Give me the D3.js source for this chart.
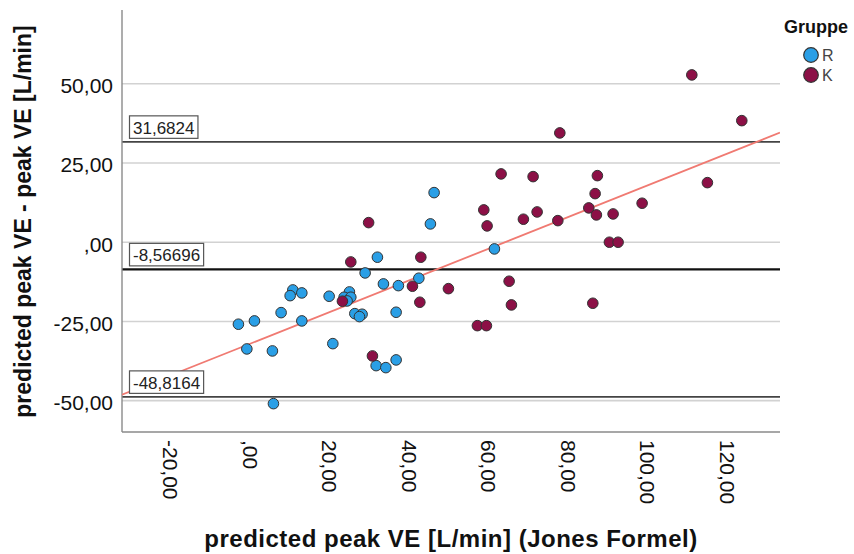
<!DOCTYPE html>
<html><head><meta charset="utf-8">
<script src="https://cdn.jsdelivr.net/npm/d3@7"></script>
<style>
body{margin:0;background:#fff;}
svg{display:block;font-family:"Liberation Sans",Arial,sans-serif;}
</style></head>
<body>
<svg id="chart" width="854" height="554"></svg>
<script>
// ---- data ----
const groups = ["R", "K"];
const groupColors = ["#2a9fe6", "#8c1046"];
// Gruppe R
const rX = [45.47, 46.40, 29.05, 10.87, 10.19, 13.13, 20.00, 25.10, 23.77, 25.45, 24.52, 26.46, 28.29, 27.62,
            -2.82, 1.21, 7.92, 13.13, -0.70, 5.73, 20.93, 5.99, 61.57, 32.14, 33.65, 37.42, 42.56, 36.85,
            31.82, 34.26, 36.85];
const rY = [5.78, 15.66, -9.69, -15.06, -16.86, -16.00, -17.05, -15.69, -17.36, -17.36, -18.53, -22.54, -22.73, -23.48,
            -25.88, -24.84, -22.22, -24.84, -33.68, -34.31, -32.01, -50.95, -2.11, -4.73, -13.16, -13.70, -11.36, -22.10,
            -38.95, -39.58, -37.15];
// Gruppe K
const kX = [29.93, 25.45, 23.34, 30.89, 58.90, 59.73, 68.86, 72.31, 77.52, 85.31, 87.22, 91.42, 90.49, 92.68,
            43.06, 40.95, 50.00, 65.27, 42.81, 65.85, 86.32, 57.29, 59.56, 98.72, 78.02, 63.25, 71.30, 87.47,
            86.90, 111.22, 123.79, 115.14];
const kY = [6.19, -6.22, -18.62, -35.89, 10.20, 5.15, 7.26, 9.56, 6.82, 10.83, 8.62, 8.93, 0.00, 0.00,
            -4.73, -13.89, -14.65, -12.31, -18.94, -19.79, -19.26, -26.33, -26.33, 12.31, 34.50, 21.56, 20.71, 21.02,
            15.34, 52.81, 38.38, 18.81];
// Bland-Altman reference lines (upper LoA, mean, lower LoA)
const refValues = [31.6824, -8.56696, -48.8164];
const refLabels = ["31,6824", "-8,56696", "-48,8164"];
// fit line
const fitIntercept = -32.1;
const fitSlope = 0.500;
// axes
const xDomain = [-32.1, 133.4];
const yDomain = [-59.9, 73.3];
const xTicks = [-20, 0, 20, 40, 60, 80, 100, 120];
const xTickLabels = ["-20,00", ",00", "20,00", "40,00", "60,00", "80,00", "100,00", "120,00"];
const yTicks = [-50, -25, 0, 25, 50];
const yTickLabels = ["-50,00", "-25,00", ",00", "25,00", "50,00"];
const xTitle = "predicted peak VE [L/min] (Jones Formel)";
const yTitle = "predicted peak VE - peak VE [L/min]";
const legendTitle = "Gruppe";

// ---- layout ----
const svg = d3.select("#chart");
const L = 122, R = 780, T = 10, B = 432;
const x = d3.scaleLinear().domain(xDomain).range([L, R]);
const y = d3.scaleLinear().domain(yDomain).range([B, T]);

svg.append("defs").append("clipPath").attr("id", "clip")
  .append("rect").attr("x", L).attr("y", T).attr("width", R - L).attr("height", B - T);

// gridlines
svg.append("g").selectAll("line").data(yTicks).join("line")
  .attr("x1", L).attr("x2", R)
  .attr("y1", d => y(d)).attr("y2", d => y(d))
  .attr("stroke", "#d2d2d2").attr("stroke-width", 1.6);

// reference lines
svg.append("g").selectAll("line").data(refValues).join("line")
  .attr("x1", L).attr("x2", R)
  .attr("y1", d => y(d)).attr("y2", d => y(d))
  .attr("stroke", (d, i) => i === 1 ? "#111" : "#444")
  .attr("stroke-width", (d, i) => i === 1 ? 2.2 : 1.8);

// axes
const yAxis = svg.append("g").attr("transform", `translate(${L},0)`)
  .call(d3.axisLeft(y).tickValues(yTicks).tickSize(0).tickPadding(9)
    .tickFormat((d, i) => yTickLabels[i]));
yAxis.select(".domain").attr("stroke", "#8a8a8a").attr("stroke-width", 1.4)
  .attr("d", `M0,${T}V${B}`);
yAxis.selectAll("text").attr("font-size", 21).attr("fill", "#111")
  .attr("font-family", "Liberation Sans, Arial, sans-serif").attr("dy", "0.42em");

const xAxis = svg.append("g").attr("transform", `translate(0,${B})`)
  .call(d3.axisBottom(x).tickValues(xTicks).tickSize(0)
    .tickFormat((d, i) => xTickLabels[i]));
xAxis.select(".domain").attr("stroke", "#8a8a8a").attr("stroke-width", 1.4)
  .attr("d", `M${L},0H${R}`);
xAxis.selectAll("text")
  .attr("font-size", 21).attr("fill", "#111")
  .attr("font-family", "Liberation Sans, Arial, sans-serif")
  .attr("text-anchor", "start")
  .attr("transform", "rotate(90)")
  .attr("x", 8).attr("y", 0).attr("dy", "0.35em");

// fit line
svg.append("line").attr("clip-path", "url(#clip)")
  .attr("x1", x(xDomain[0])).attr("y1", y(fitIntercept + fitSlope * xDomain[0]))
  .attr("x2", x(xDomain[1])).attr("y2", y(fitIntercept + fitSlope * xDomain[1]))
  .attr("stroke", "#f07a72").attr("stroke-width", 1.8);

// points
const pts = [];
rX.forEach((v, i) => pts.push({x: v, y: rY[i], g: 0}));
kX.forEach((v, i) => pts.push({x: v, y: kY[i], g: 1}));
svg.append("g").selectAll("circle").data(pts).join("circle")
  .attr("cx", d => x(d.x)).attr("cy", d => y(d.y)).attr("r", 5.3)
  .attr("fill", d => groupColors[d.g]).attr("stroke", "#333").attr("stroke-width", 1);

// reference labels
refValues.forEach((v, i) => {
  const g = svg.append("g");
  const t = g.append("text").attr("x", 133).attr("y", y(v) - 8)
    .attr("font-size", 17).attr("fill", "#222").text(refLabels[i]);
  const bb = t.node().getBBox();
  g.insert("rect", "text").attr("x", 129.5).attr("y", y(v) - 26)
    .attr("width", bb.width + 7).attr("height", 22.5)
    .attr("fill", "#fff").attr("stroke", "#555").attr("stroke-width", 1.2);
});

// titles
svg.append("text").attr("x", 451).attr("y", 547)
  .attr("text-anchor", "middle").attr("font-weight", "bold").attr("font-size", 24)
  .attr("letter-spacing", 0.5)
  .attr("fill", "#111").text(xTitle);
svg.append("text").attr("transform", `translate(31,221.5) rotate(-90)`)
  .attr("text-anchor", "middle").attr("font-weight", "bold").attr("font-size", 23)
  .attr("fill", "#111").text(yTitle);

// legend
svg.append("text").attr("x", 784).attr("y", 33).attr("font-weight", "bold")
  .attr("font-size", 18).attr("fill", "#111").text(legendTitle);
const lg = svg.append("g").selectAll("g").data(groups).join("g")
  .attr("transform", (d, i) => `translate(811,${55 + i * 20})`);
lg.append("circle").attr("r", 7.3).attr("fill", (d, i) => groupColors[i])
  .attr("stroke", "#333").attr("stroke-width", 1.2);
lg.append("text").attr("x", 11).attr("y", 6).attr("font-size", 16).attr("fill", "#444").text(d => d);
</script>
</body></html>
